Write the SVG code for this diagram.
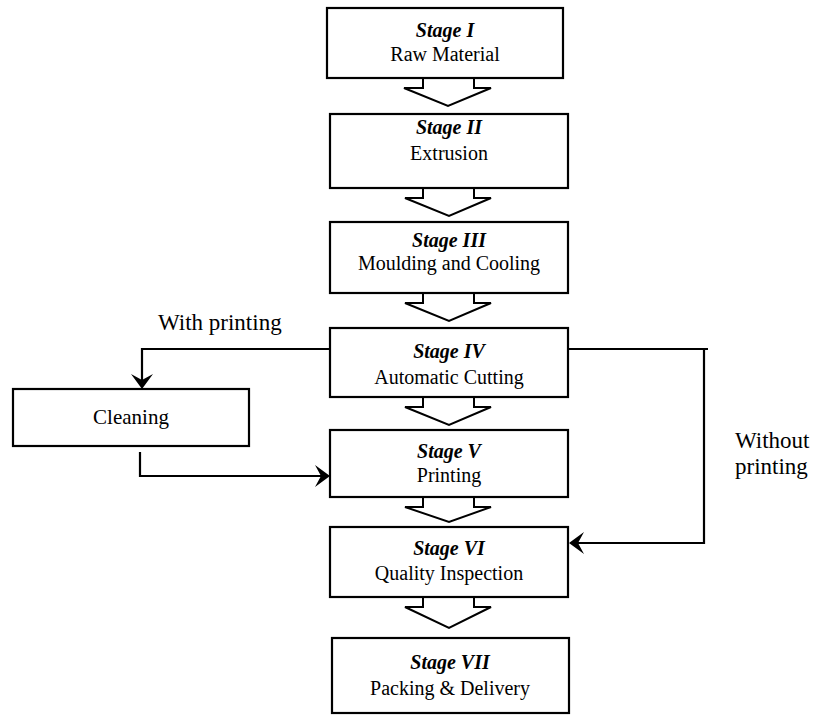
<svg xmlns="http://www.w3.org/2000/svg" width="813" height="717" viewBox="0 0 813 717">
<defs>
<style>
.box{fill:#fff;stroke:#000;stroke-width:2.2}
.chev{fill:#fff;stroke:#000;stroke-width:2;stroke-linejoin:miter}
.st{font-family:"Liberation Serif",serif;font-weight:bold;font-style:italic;font-size:20px;text-anchor:middle;fill:#000}
.nm{font-family:"Liberation Serif",serif;font-size:20px;text-anchor:middle;fill:#000}
.lbl{font-family:"Liberation Serif",serif;font-size:23px;fill:#000}
.ln{fill:none;stroke:#000;stroke-width:2.2}
.ah{fill:#000;stroke:none}
</style>
</defs>
<rect width="813" height="717" fill="#fff"/>
<g id="connectors">
<path class="chev" d="M423,78 V88 H404 L448,106 L491,88 H474 V78"/>
<path class="chev" d="M423,188 V198 H405 L449,216 L491,198 H474 V188"/>
<path class="chev" d="M423,293 V303 H405 L449,321 L491,303 H474 V293"/>
<path class="chev" d="M423,397 V407 H405 L449,425 L491,407 H474 V397"/>
<path class="chev" d="M423,497 V507 H405 L449,522 L491,507 H474 V497"/>
<path class="chev" d="M423,597 V607 H405 L449,628 L491,607 H474 V597"/>
<path class="ln" d="M330,349 H142 V382"/>
<path class="ah" d="M142,389 L131,374 L142,380 L153,374 Z"/>
<path class="ln" d="M140,452 V476 H323"/>
<path class="ah" d="M330,476 L315,465 L321,476 L315,487 Z"/>
<path class="ln" d="M568,349 H708"/>
<path class="ln" d="M704,350 V543 H576"/>
<path class="ah" d="M569,543 L584,532 L578,543 L584,554 Z"/>
</g>
<g id="stage1"><rect class="box" x="327" y="8" width="236" height="70"/><text class="st" x="445" y="37">Stage I</text><text class="nm" x="445" y="61">Raw Material</text></g>
<g id="stage2"><rect class="box" x="330" y="114" width="238" height="74"/><text class="st" x="449" y="134">Stage II</text><text class="nm" x="449" y="160">Extrusion</text></g>
<g id="stage3"><rect class="box" x="330" y="222" width="238" height="71"/><text class="st" x="449" y="247">Stage III</text><text class="nm" x="449" y="270">Moulding and Cooling</text></g>
<g id="stage4"><rect class="box" x="330" y="328" width="238" height="69"/><text class="st" x="449" y="358">Stage IV</text><text class="nm" x="449" y="384">Automatic Cutting</text></g>
<g id="stage5"><rect class="box" x="330" y="430" width="238" height="67"/><text class="st" x="449" y="458">Stage V</text><text class="nm" x="449" y="482">Printing</text></g>
<g id="stage6"><rect class="box" x="330" y="527" width="238" height="70"/><text class="st" x="449" y="555">Stage VI</text><text class="nm" x="449" y="580">Quality Inspection</text></g>
<g id="stage7"><rect class="box" x="332" y="638" width="237" height="75"/><text class="st" x="450" y="669">Stage VII</text><text class="nm" x="450" y="695">Packing &amp; Delivery</text></g>
<g id="cleaning"><rect class="box" x="13" y="389" width="236" height="57"/><text class="nm" x="131" y="424" style="font-size:21px">Cleaning</text></g>
<g id="labels">
<text class="lbl" x="158" y="330">With printing</text>
<text class="lbl" x="735" y="448">Without</text>
<text class="lbl" x="735" y="474">printing</text>
</g>
</svg>
